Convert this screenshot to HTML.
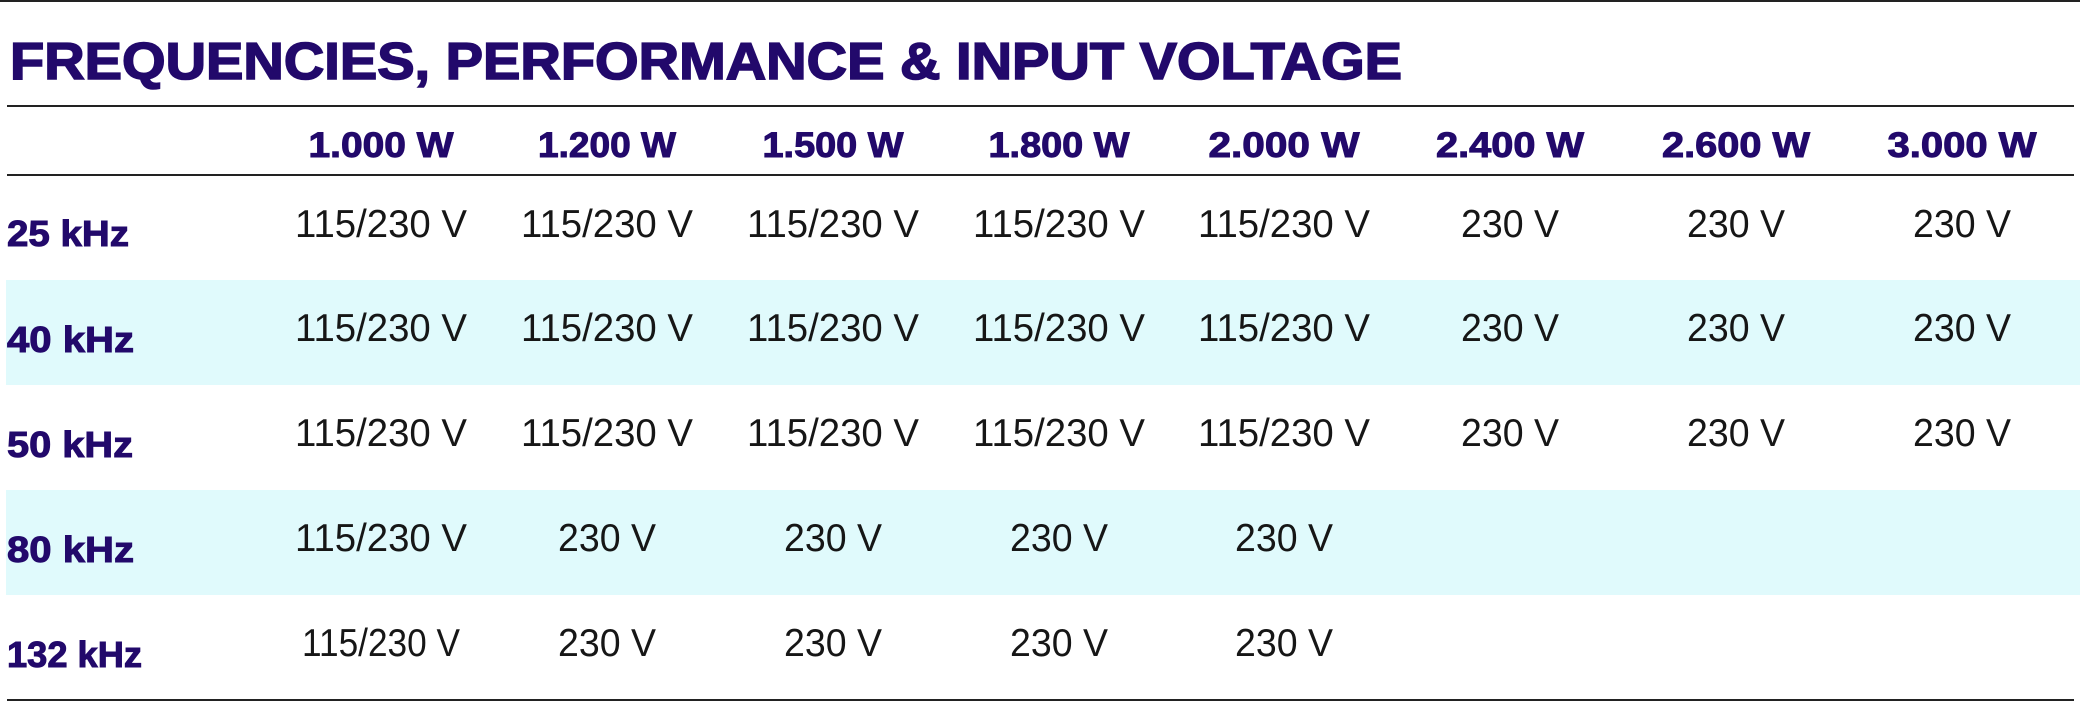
<!DOCTYPE html>
<html>
<head>
<meta charset="utf-8">
<style>
html,body{margin:0;padding:0;background:#fff;}
svg{display:block;}
.t{font-family:"Liberation Sans",sans-serif;font-weight:bold;fill:#22096b;stroke:#22096b;stroke-width:1.6px;}
.h{font-family:"Liberation Sans",sans-serif;font-weight:bold;fill:#22096b;font-size:35px;stroke:#22096b;stroke-width:1px;}
.l{font-family:"Liberation Sans",sans-serif;font-weight:bold;fill:#22096b;font-size:36px;stroke:#22096b;stroke-width:1px;}
.d{font-family:"Liberation Sans",sans-serif;font-weight:normal;fill:#161616;font-size:39px;}
</style>
</head>
<body>
<svg width="2080" height="707" viewBox="0 0 2080 707" xmlns="http://www.w3.org/2000/svg">
<rect x="0" y="0" width="2080" height="707" fill="#fff"/>
<rect x="6" y="280" width="2074" height="105" fill="#e0fafc"/>
<rect x="6" y="490" width="2074" height="105" fill="#e0fafc"/>
<rect x="0" y="0" width="2080" height="2" fill="#222"/>
<rect x="7" y="105" width="2067" height="2" fill="#222"/>
<rect x="7" y="174" width="2067" height="2" fill="#222"/>
<rect x="7" y="699" width="2067" height="2" fill="#222"/>
<text class="t" x="10" y="79" font-size="52" textLength="1392" lengthAdjust="spacingAndGlyphs">FREQUENCIES, PERFORMANCE &amp; INPUT VOLTAGE</text>
<g class="h" text-anchor="middle">
<text x="381" y="157" textLength="145" lengthAdjust="spacingAndGlyphs">1.000 W</text>
<text x="607" y="157" textLength="138" lengthAdjust="spacingAndGlyphs">1.200 W</text>
<text x="833" y="157" textLength="141" lengthAdjust="spacingAndGlyphs">1.500 W</text>
<text x="1059" y="157" textLength="141" lengthAdjust="spacingAndGlyphs">1.800 W</text>
<text x="1284" y="157" textLength="151" lengthAdjust="spacingAndGlyphs">2.000 W</text>
<text x="1510" y="157" textLength="148" lengthAdjust="spacingAndGlyphs">2.400 W</text>
<text x="1736" y="157" textLength="148" lengthAdjust="spacingAndGlyphs">2.600 W</text>
<text x="1962" y="157" textLength="149" lengthAdjust="spacingAndGlyphs">3.000 W</text>
</g>
<g class="l">
<text x="7" y="246" textLength="122" lengthAdjust="spacingAndGlyphs">25 kHz</text>
<text x="7" y="352" textLength="127" lengthAdjust="spacingAndGlyphs">40 kHz</text>
<text x="7" y="457" textLength="126" lengthAdjust="spacingAndGlyphs">50 kHz</text>
<text x="7" y="562" textLength="127" lengthAdjust="spacingAndGlyphs">80 kHz</text>
<text x="7" y="667" textLength="135" lengthAdjust="spacingAndGlyphs">132 kHz</text>
</g>
<g class="d" text-anchor="middle">
<text x="381" y="237" textLength="172" lengthAdjust="spacingAndGlyphs">115/230 V</text>
<text x="607" y="237" textLength="172" lengthAdjust="spacingAndGlyphs">115/230 V</text>
<text x="833" y="237" textLength="172" lengthAdjust="spacingAndGlyphs">115/230 V</text>
<text x="1059" y="237" textLength="172" lengthAdjust="spacingAndGlyphs">115/230 V</text>
<text x="1284" y="237" textLength="172" lengthAdjust="spacingAndGlyphs">115/230 V</text>
<text x="1510" y="237" textLength="98" lengthAdjust="spacingAndGlyphs">230 V</text>
<text x="1736" y="237" textLength="98" lengthAdjust="spacingAndGlyphs">230 V</text>
<text x="1962" y="237" textLength="98" lengthAdjust="spacingAndGlyphs">230 V</text>
<text x="381" y="341" textLength="172" lengthAdjust="spacingAndGlyphs">115/230 V</text>
<text x="607" y="341" textLength="172" lengthAdjust="spacingAndGlyphs">115/230 V</text>
<text x="833" y="341" textLength="172" lengthAdjust="spacingAndGlyphs">115/230 V</text>
<text x="1059" y="341" textLength="172" lengthAdjust="spacingAndGlyphs">115/230 V</text>
<text x="1284" y="341" textLength="172" lengthAdjust="spacingAndGlyphs">115/230 V</text>
<text x="1510" y="341" textLength="98" lengthAdjust="spacingAndGlyphs">230 V</text>
<text x="1736" y="341" textLength="98" lengthAdjust="spacingAndGlyphs">230 V</text>
<text x="1962" y="341" textLength="98" lengthAdjust="spacingAndGlyphs">230 V</text>
<text x="381" y="446" textLength="172" lengthAdjust="spacingAndGlyphs">115/230 V</text>
<text x="607" y="446" textLength="172" lengthAdjust="spacingAndGlyphs">115/230 V</text>
<text x="833" y="446" textLength="172" lengthAdjust="spacingAndGlyphs">115/230 V</text>
<text x="1059" y="446" textLength="172" lengthAdjust="spacingAndGlyphs">115/230 V</text>
<text x="1284" y="446" textLength="172" lengthAdjust="spacingAndGlyphs">115/230 V</text>
<text x="1510" y="446" textLength="98" lengthAdjust="spacingAndGlyphs">230 V</text>
<text x="1736" y="446" textLength="98" lengthAdjust="spacingAndGlyphs">230 V</text>
<text x="1962" y="446" textLength="98" lengthAdjust="spacingAndGlyphs">230 V</text>
<text x="381" y="551" textLength="172" lengthAdjust="spacingAndGlyphs">115/230 V</text>
<text x="607" y="551" textLength="98" lengthAdjust="spacingAndGlyphs">230 V</text>
<text x="833" y="551" textLength="98" lengthAdjust="spacingAndGlyphs">230 V</text>
<text x="1059" y="551" textLength="98" lengthAdjust="spacingAndGlyphs">230 V</text>
<text x="1284" y="551" textLength="98" lengthAdjust="spacingAndGlyphs">230 V</text>
<text x="381" y="656" textLength="158" lengthAdjust="spacingAndGlyphs">115/230 V</text>
<text x="607" y="656" textLength="98" lengthAdjust="spacingAndGlyphs">230 V</text>
<text x="833" y="656" textLength="98" lengthAdjust="spacingAndGlyphs">230 V</text>
<text x="1059" y="656" textLength="98" lengthAdjust="spacingAndGlyphs">230 V</text>
<text x="1284" y="656" textLength="98" lengthAdjust="spacingAndGlyphs">230 V</text>
</g>
</svg>
</body>
</html>
